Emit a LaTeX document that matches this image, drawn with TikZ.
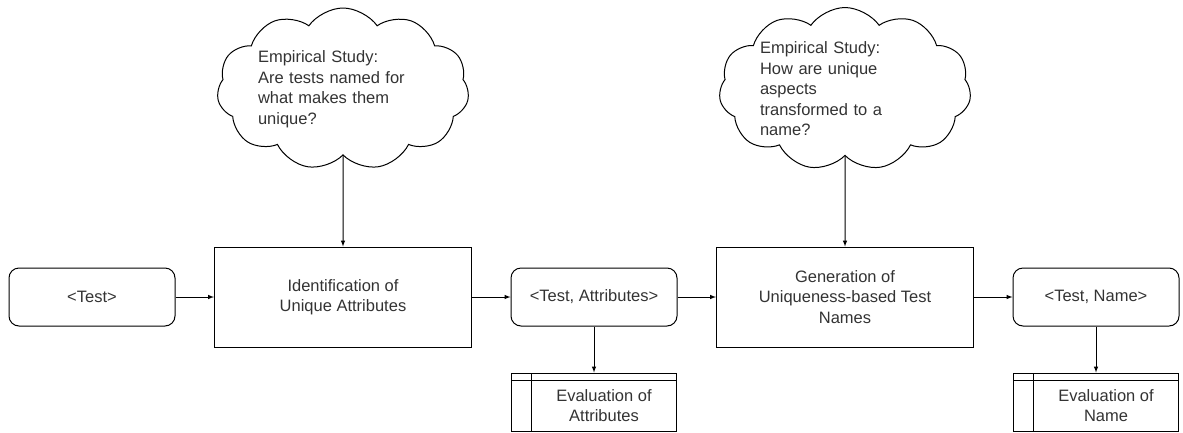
\documentclass[tikz,border=0pt]{standalone}
\usepackage{fontspec}
\setmainfont{Liberation Sans}
\usepackage{tikz}
\usetikzlibrary{positioning,shapes,shapes.symbols,arrows}
\definecolor{txt}{HTML}{333333}
\tikzstyle{data}=[draw, rounded corners=10pt, minimum height = 58pt, minimum width=166pt, line width=1pt, text=txt]
\tikzstyle{proc}=[draw, minimum height = 100pt, minimum width=257pt, line width=1pt, align=center, text=txt]
\tikzstyle{study}=[draw, cloud, cloud puffs=11, cloud puff arc=110, cloud ignores aspect, minimum height = 162pt, minimum width=252pt, line width=1pt, align=left, text width=170pt, text=txt, inner sep=0pt]
\tikzstyle{evalbox}=[draw, minimum height = 58pt, minimum width=165pt, line width=1pt,
  path picture={\draw[line width=1pt] ([xshift=20pt]path picture bounding box.north west) -- ([xshift=20pt]path picture bounding box.south west);
    \draw[line width=1pt] ([yshift=-7pt]path picture bounding box.north west) -- ([yshift=-7pt]path picture bounding box.north east);}]
\tikzstyle{flow}=[-latex, line width=1pt]
\begin{document}
\begin{tikzpicture}[node distance=251pt, font=\fontsize{16.5}{20.5}\selectfont]
\useasboundingbox (0,0) rectangle (1183pt,-432pt);

\node[data] at (92pt,-297pt) (test) {<Test>};
\node[proc, right of = test] (ident) {Identification of\\Unique Attributes};
\node[data, right of = ident] (attr) {<Test, Attributes>};
\node[proc, right of = attr] (gen) {Generation of\\Uniqueness-based Test\\Names};
\node[data, right of = gen] (name) {<Test, Name>};

\node[study, above of = ident, node distance = 208pt] (study1) {Empirical Study:\\Are tests named for\\what makes them\\unique?};
\node[study, above of = gen, node distance = 208pt] (study2) {Empirical Study:\\How are unique\\aspects\\transformed to a\\name?};

\node[evalbox, below of = attr, node distance = 105pt, label={[align=center, xshift=10pt, yshift=-3.5pt, text=txt]center:Evaluation of\\Attributes}] (evalattr) {};
\node[evalbox, below of = name, node distance = 105pt, label={[align=center, xshift=10pt, yshift=-3.5pt, text=txt]center:Evaluation of\\Name}] (evalname) {};

\draw[flow] (test) -- (ident);
\draw[flow] (ident) -- (attr);
\draw[flow] (attr) -- (gen);
\draw[flow] (gen) -- (name);
\draw[flow] (study1) -- (ident);
\draw[flow] (study2) -- (gen);
\draw[flow] (attr) -- (evalattr);
\draw[flow] (name) -- (evalname);
\end{tikzpicture}
\end{document}
